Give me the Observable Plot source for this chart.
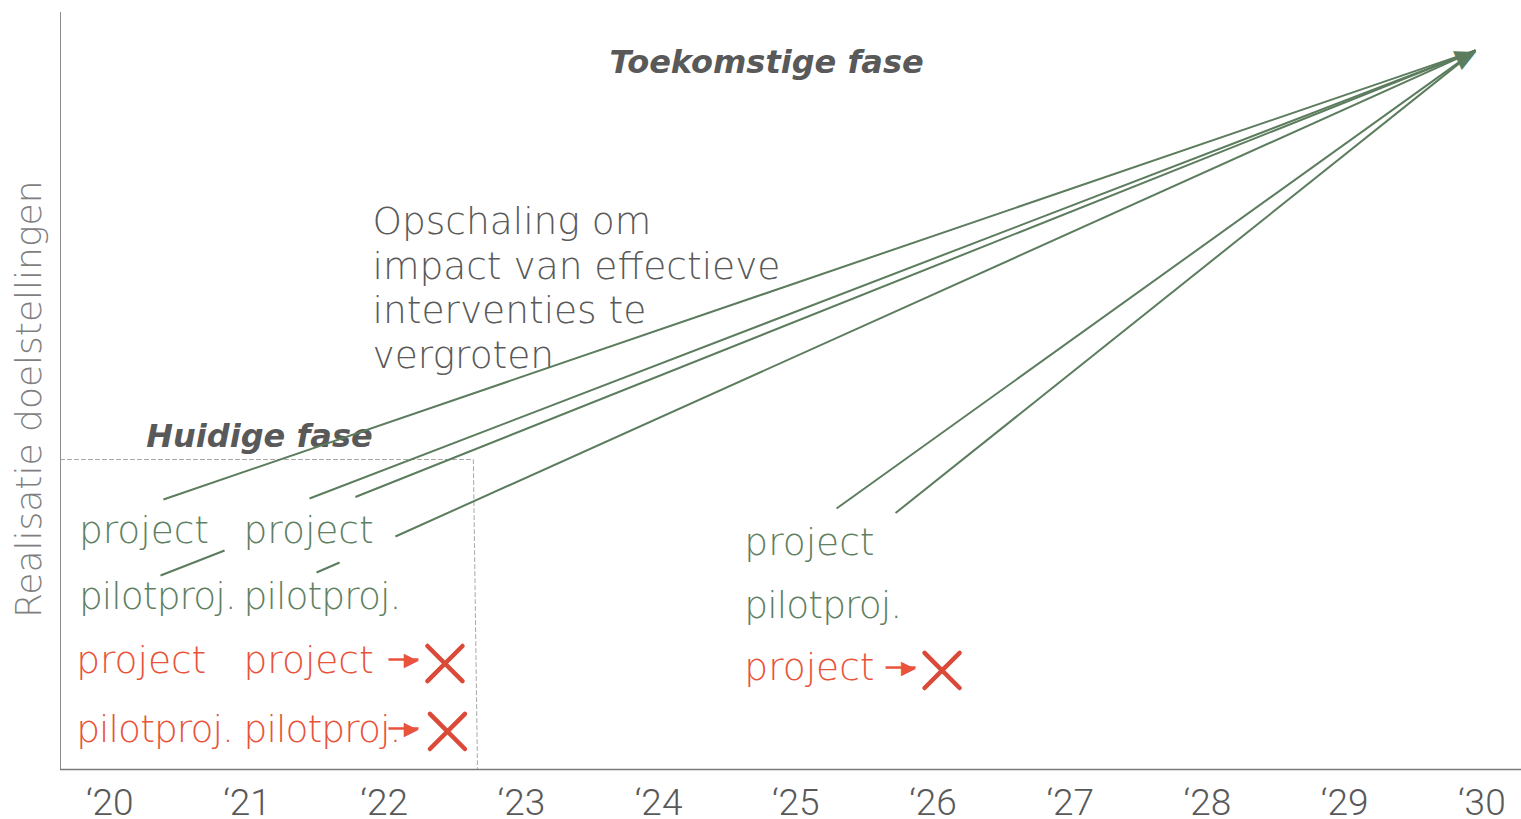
<!DOCTYPE html>
<html><head><meta charset="utf-8">
<script src="https://cdn.jsdelivr.net/npm/d3@7"></script>
<script src="https://cdn.jsdelivr.net/npm/@observablehq/plot@0.6"></script>
<style>html,body{margin:0;padding:0;background:#fff;}</style>
</head><body><div id="chart"></div>
<script>
// ---- data ----
const years = [2020, 2021, 2022, 2023, 2024, 2025, 2026, 2027, 2028, 2029, 2030];
const tickLabels = ["‘20", "‘21", "‘22", "‘23", "‘24", "‘25", "‘26", "‘27", "‘28", "‘29", "‘30"];
const xDomain = [2019.641, 2030.289];
const yDomain = [0, 100];
const yLabel = "Realisatie doelstellingen";

const target = [{x: 2029.954, y: 95}];
// visible starts of the scaling lines (they run to the target)
const lineStarts = [
  {x: 2020.391, y: 35.67},
  {x: 2021.456, y: 35.80},
  {x: 2021.790, y: 36.00},
  {x: 2022.082, y: 30.78},
  {x: 2025.297, y: 34.48},
  {x: 2025.727, y: 33.88}
];
// short visible pieces of lines from the pilots (rest hidden behind labels)
const lineFragments = [
  {x1: 2020.370, y1: 25.63, x2: 2020.837, y2: 28.93},
  {x1: 2021.507, y1: 26.02, x2: 2021.675, y2: 27.35}
];
const currentPhaseBox = [
  {x: 2019.641, y: 40.95},
  {x: 2022.650, y: 40.95},
  {x: 2022.680, y: 0}
];
const projectLabels = [
  {text: "project",    x: 2019.775, y: 31.45, status: "ok"},
  {text: "pilotproj.", x: 2019.775, y: 22.75, status: "ok"},
  {text: "project",    x: 2019.755, y: 14.30, status: "stop"},
  {text: "pilotproj.", x: 2019.755, y: 5.20,  status: "stop"},
  {text: "project",    x: 2020.975, y: 31.45, status: "ok"},
  {text: "pilotproj.", x: 2020.975, y: 22.75, status: "ok"},
  {text: "project",    x: 2020.975, y: 14.30, status: "stop"},
  {text: "pilotproj.", x: 2020.975, y: 5.20,  status: "stop"},
  {text: "project",    x: 2024.625, y: 29.90, status: "ok"},
  {text: "pilotproj.", x: 2024.625, y: 21.60, status: "ok"},
  {text: "project",    x: 2024.625, y: 13.40, status: "stop"}
];
const stopArrows = [
  {x1: 2022.031, x2: 2022.250, y: 14.53},
  {x1: 2022.031, x2: 2022.250, y: 5.42},
  {x1: 2025.654, x2: 2025.873, y: 13.47}
];
const crosses = [
  {x: 2022.443, y: 14.0},
  {x: 2022.461, y: 5.02},
  {x: 2026.066, y: 13.08}
];
const phaseTitles = [
  {text: "Toekomstige fase", x: 2024.787, y: 93.3},
  {text: "Huidige fase",     x: 2021.091, y: 44.0}
];
const note = [{text: "Opschaling om\nimpact van effectieve\ninterventies te\nvergroten", x: 2021.915, y: 74.9}];

// ---- style ----
const green = "#5c7c5e", greenText = "#5f7f62", red = "#e8533a", redX = "#db4a38", gray = "#595959";
const bodyFont = "'DejaVu Sans', sans-serif";

const chart = Plot.plot({
  width: 1521, height: 819,
  marginLeft: 60, marginRight: 0, marginTop: 12, marginBottom: 50,
  x: {domain: xDomain, axis: null},
  y: {domain: yDomain, axis: null},
  style: {background: "#fff", overflow: "visible"},
  marks: [
    Plot.line(currentPhaseBox, {x: "x", y: "y", stroke: "#a8a8a8", strokeWidth: 1, strokeDasharray: "4,3"}),
    Plot.ruleX([xDomain[0]], {stroke: "#8c8c8c", strokeWidth: 1}),
    Plot.ruleY([0], {stroke: "#7a7a7a", strokeWidth: 1.6}),
    Plot.text(years, {x: d => d, frameAnchor: "bottom", dy: 34, text: (d, i) => tickLabels[i],
      fontSize: 37, fontFamily: "Roboto", fontWeight: 300, fill: gray, textAnchor: "middle", lineAnchor: "middle"}),
    Plot.text([yLabel], {frameAnchor: "left", y: () => 48.9, dx: -31, rotate: -90, text: d => d,
      fontSize: 36, fontFamily: bodyFont, fontWeight: 200, fill: "#7f7f7f", textAnchor: "middle", lineAnchor: "middle"}),
    Plot.text(note, {x: "x", y: "y", text: "text", textAnchor: "start", lineAnchor: "top", lineHeight: 1.19,
      fontSize: 37.5, fontFamily: bodyFont, fontWeight: 200, fill: gray}),
    Plot.text(phaseTitles, {x: "x", y: "y", text: "text", textAnchor: "middle", lineAnchor: "middle",
      fontSize: 32, fontFamily: bodyFont, fontWeight: "bold", fontStyle: "italic", fill: gray}),
    Plot.text(projectLabels, {x: "x", y: "y", text: "text", textAnchor: "start", lineAnchor: "middle",
      fontSize: 37.5, fontFamily: bodyFont, fontWeight: 200, fill: d => d.status === "ok" ? greenText : red}),
    Plot.link(lineStarts, {x1: "x", y1: "y", x2: () => target[0].x, y2: () => target[0].y, stroke: green, strokeWidth: 2}),
    Plot.link(lineFragments, {x1: "x1", y1: "y1", x2: "x2", y2: "y2", stroke: green, strokeWidth: 2}),
    Plot.text(target, {x: "x", y: "y", text: () => "▶", rotate: -25, textAnchor: "end", lineAnchor: "middle",
      fontSize: 27, fontFamily: "'DejaVu Sans'", fill: green}),
    Plot.link(stopArrows, {x1: "x1", y1: "y", x2: "x2", y2: "y", stroke: red, strokeWidth: 2.5}),
    Plot.text(stopArrows, {x: "x2", y: "y", text: () => "▶", textAnchor: "end", lineAnchor: "middle",
      fontSize: 19, fontFamily: "'DejaVu Sans'", fill: red}),
    Plot.dot(crosses, {x: "x", y: "y", symbol: "times", r: 16, stroke: redX, strokeWidth: 4.5, strokeLinecap: "round"})
  ]
});
// tighten the wide "pilotproj." labels to the reference width
d3.select(chart).selectAll("text")
  .filter(function () { return this.textContent === "pilotproj."; })
  .attr("letter-spacing", "-0.9");
document.getElementById("chart").appendChild(chart);
</script>
</body></html>
